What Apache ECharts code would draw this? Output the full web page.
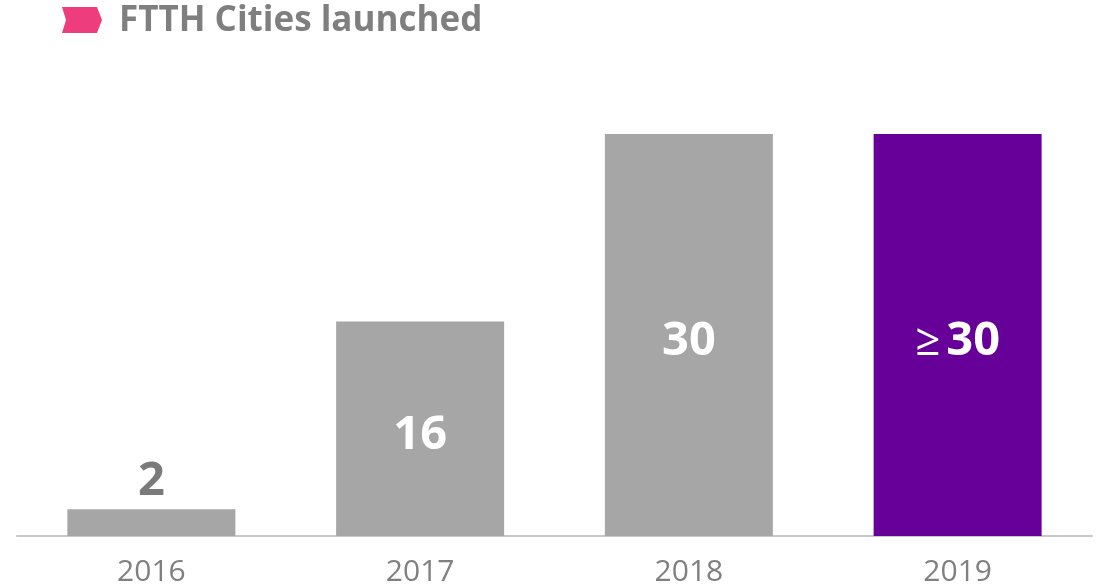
<!DOCTYPE html>
<html><head><meta charset="utf-8">
<script src="https://cdn.jsdelivr.net/npm/echarts@6/dist/echarts.min.js"></script>
<style>html,body{margin:0;padding:0;background:#fff}#c{width:1097px;height:588px}</style>
</head><body><div id="c"></div>
<script>
const categories = ['2016','2017','2018','2019'];
const values = [2, 16, 30, 30];
const labels = ['2', '16', '30', '{ge|≥}{b|30}'];
const titleText = 'FTTH Cities launched';

const FONT = '"Open Sans", "Noto Sans", sans-serif';
const chart = echarts.init(document.getElementById('c'));
const data = values.map((v, i) => {
  const d = {value: v, itemStyle: {color: i === 3 ? '#660099' : '#a6a6a6'}};
  if (i === 0) {
    d.label = {position: 'top', color: '#7a7a7a', distance: 4, offset: [0, 0]};
  }
  return d;
});
chart.setOption({
  animation: false,
  grid: {left: 17, right: 5, top: 134, bottom: 52},
  xAxis: {
    type: 'category', data: categories,
    axisLine: {lineStyle: {color: '#c8c8c8', width: 2}},
    axisTick: {show: false},
    axisLabel: {color: '#808080', fontSize: 30, fontFamily: FONT, margin: 21}
  },
  yAxis: {type: 'value', min: 0, max: 30, show: false, splitLine: {show: false}},
  graphic: [
    {type: 'polygon', shape: {points: [[62,7],[97,7],[102,20],[97,33],[62,33],[66,20]]}, style: {fill: '#ee3d7d'}},
    {type: 'text', left: 119, top: 4, style: {text: titleText, fill: '#7f7f7f', font: 'bold 35px ' + FONT}}
  ],
  series: [{
    type: 'bar', barWidth: 168, data: data,
    label: {
      show: true, position: 'inside', offset: [0, 7], color: '#fff', fontSize: 47, fontWeight: 'bold', fontFamily: FONT,
      formatter: p => labels[p.dataIndex],
      rich: {
        ge: {color: '#fff', fontSize: 44, fontWeight: 'normal', fontFamily: FONT, padding: [0, 6, 0, 0]},
        b: {color: '#fff', fontSize: 47, fontWeight: 'bold', fontFamily: FONT}
      }
    }
  }]
});
</script></body></html>
